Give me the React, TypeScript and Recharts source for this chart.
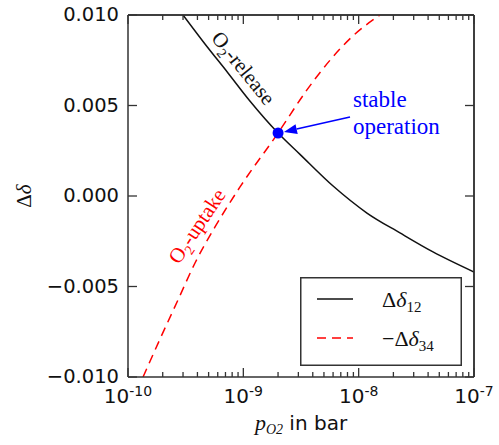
import React from 'react';
import { LineChart, Line, XAxis, YAxis, ReferenceDot, ReferenceLine, Legend } from 'recharts';

// O2-release curve (Δδ12)
const releaseP = [3.0e-10, 4.65e-10, 7.36e-10, 1.14e-9, 2.0e-9, 3.1e-9, 6.0e-9, 1.18e-8, 2.28e-8, 4.41e-8, 1.0e-7];
const releaseDelta = [0.01, 0.0084, 0.0068, 0.00525, 0.00348, 0.0023, 0.00055, -0.00094, -0.00204, -0.00309, -0.0042];

// O2-uptake curve (−Δδ34)
const uptakeP = [1.35e-10, 1.93e-10, 2.71e-10, 3.81e-10, 5.68e-10, 9.36e-10, 2.0e-9, 3.56e-9, 5.64e-9, 8.76e-9, 1.53e-8];
const uptakeDelta = [-0.01, -0.00779, -0.00575, -0.0037, -0.00171, 0.0005, 0.00348, 0.00586, 0.0075, 0.0088, 0.01];

// stable operating point
const stableP = 2.0e-9;
const stableDelta = 0.00348;

const majorTicksX = [1e-10, 1e-9, 1e-8, 1e-7];
const minorFactors = [2, 3, 4, 5, 6, 7, 8, 9];
const yTicks = [-0.01, -0.005, 0, 0.005, 0.01];
const yTickLabels = ['\u22120.010', '\u22120.005', '0.000', '0.005', '0.010'];

const xTicks = [
  ...majorTicksX,
  ...majorTicksX.slice(0, 3).flatMap((d) => minorFactors.map((f) => f * d)),
].sort((a, b) => a - b);

const releaseData = releaseP.map((p, i) => ({ p, d: releaseDelta[i] }));
const uptakeData = uptakeP.map((p, i) => ({ p, d: uptakeDelta[i] }));

const AXIS = '#333';
const SANS = "'DejaVu Sans', sans-serif";
const SERIF = "'Liberation Serif', 'Times New Roman', serif";

const isMajor = (v: number) => {
  const e = Math.log10(v);
  return Math.abs(e - Math.round(e)) < 1e-6;
};

const XTick = (props: any) => {
  const { x, y, payload, top } = props;
  const v = payload.value as number;
  const major = isMajor(v);
  const len = major ? 9 : 5;
  const dir = top ? 1 : -1;
  return (
    <g>
      <line x1={x} x2={x} y1={y} y2={y + dir * len} stroke={AXIS} strokeWidth={1.3} />
      {!top && major && (
        <text x={x} y={y + 26} textAnchor="middle" fontFamily={SANS} fontSize={20} fill="#111">
          <tspan>10</tspan>
          <tspan dy={-7} fontSize={14}>{Math.round(Math.log10(v))}</tspan>
        </text>
      )}
    </g>
  );
};

const YTick = (props: any) => {
  const { x, y, payload, right } = props;
  const idx = yTicks.indexOf(payload.value);
  const dir = right ? -1 : 1;
  return (
    <g>
      <line x1={x} x2={x + dir * 9} y1={y} y2={y} stroke={AXIS} strokeWidth={1.3} />
      {!right && (
        <text x={x - 9} y={y + 6} textAnchor="end" fontFamily={SANS} fontSize={19.5} fill="#111">
          {yTickLabels[idx]}
        </text>
      )}
    </g>
  );
};

const XLabel = (props: any) => {
  const { viewBox } = props;
  const cx = viewBox.x + viewBox.width / 2;
  return (
    <text x={cx} y={viewBox.y + 53} textAnchor="middle" fill="#111">
      <tspan fontFamily={SERIF} fontStyle="italic" fontSize={22}>p</tspan>
      <tspan fontFamily={SERIF} fontStyle="italic" fontSize={14} dy={4}>O2</tspan>
      <tspan fontFamily={SANS} fontSize={20} dy={-4}> in bar</tspan>
    </text>
  );
};

const YLabel = () => (
  <text x={0} y={0} transform="translate(31, 196) rotate(-90)" textAnchor="middle" fill="#111" fontFamily={SERIF} fontSize={21}>
    <tspan>Δ</tspan>
    <tspan fontStyle="italic">δ</tspan>
  </text>
);

const Arrow = (props: any) => {
  const { x1, y1, x2, y2 } = props;
  const ang = Math.atan2(y2 - y1, x2 - x1);
  const hl = 13;
  const hw = 5;
  const bx = x2 - hl * Math.cos(ang);
  const by = y2 - hl * Math.sin(ang);
  const px = -Math.sin(ang) * hw;
  const py = Math.cos(ang) * hw;
  return (
    <g>
      <line x1={x1} y1={y1} x2={bx} y2={by} stroke="#0000ff" strokeWidth={1.6} />
      <polygon points={`${x2},${y2} ${bx + px},${by + py} ${bx - px},${by - py}`} fill="#0000ff" />
    </g>
  );
};

const LegendBox = () => (
  <svg width={162} height={89} style={{ display: 'block' }}>
    <rect x={0.75} y={0.75} width={160.5} height={87.5} fill="#fff" stroke={AXIS} strokeWidth={1.5} />
    <line x1={17} x2={53} y1={22} y2={22} stroke="#111" strokeWidth={1.5} />
    <line x1={17} x2={53} y1={61} y2={61} stroke="#ff0000" strokeWidth={1.5} strokeDasharray="9 6" />
    <text x={82} y={30} fontFamily={SERIF} fontSize={22} fill="#111">
      <tspan>Δ</tspan>
      <tspan fontStyle="italic">δ</tspan>
      <tspan fontSize={15} dy={5}>12</tspan>
    </text>
    <text x={82} y={69} fontFamily={SERIF} fontSize={22} fill="#111">
      <tspan>−Δ</tspan>
      <tspan fontStyle="italic">δ</tspan>
      <tspan fontSize={15} dy={5}>34</tspan>
    </text>
  </svg>
);

export default function App() {
  return (
    <div style={{ position: 'absolute', left: 0, top: 0, background: '#fff' }}>
      <LineChart width={499} height={445} margin={{ top: 14, right: 24, left: 0, bottom: 0 }}>
        <XAxis
          dataKey="p"
          type="number"
          scale="log"
          domain={[1e-10, 1e-7]}
          allowDataOverflow
          ticks={xTicks}
          interval={0}
          tickSize={0}
          tickMargin={0}
          tickLine={false}
          height={68}
          axisLine={{ stroke: AXIS, strokeWidth: 1.5 }}
          tick={(p: any) => <XTick {...p} />}
          label={<XLabel />}
        />
        <XAxis
          xAxisId="top"
          orientation="top"
          dataKey="p"
          type="number"
          scale="log"
          domain={[1e-10, 1e-7]}
          allowDataOverflow
          ticks={xTicks}
          interval={0}
          tickSize={0}
          tickMargin={0}
          tickLine={false}
          height={1}
          axisLine={{ stroke: AXIS, strokeWidth: 1.5 }}
          tick={(p: any) => <XTick {...p} top />}
        />
        <YAxis
          type="number"
          domain={[-0.01, 0.01]}
          allowDataOverflow
          ticks={yTicks}
          interval={0}
          tickSize={0}
          tickMargin={0}
          tickLine={false}
          width={128}
          axisLine={{ stroke: AXIS, strokeWidth: 1.5 }}
          tick={(p: any) => <YTick {...p} />}
          label={<YLabel />}
        />
        <YAxis
          yAxisId="right"
          orientation="right"
          type="number"
          domain={[-0.01, 0.01]}
          allowDataOverflow
          ticks={yTicks}
          interval={0}
          tickSize={0}
          tickMargin={0}
          tickLine={false}
          width={1}
          axisLine={{ stroke: AXIS, strokeWidth: 1.5 }}
          tick={(p: any) => <YTick {...p} right />}
        />
        {/* top and right edges of the plot frame */}
        <ReferenceLine y={0.01} stroke={AXIS} strokeWidth={1.5} ifOverflow="visible" />
        <ReferenceLine x={1e-7} stroke={AXIS} strokeWidth={1.5} ifOverflow="visible" />
        <Line
          data={releaseData}
          dataKey="d"
          name="release"
          type="monotone"
          stroke="#111"
          strokeWidth={1.5}
          dot={false}
          activeDot={false}
          isAnimationActive={false}
        />
        <Line
          data={uptakeData}
          dataKey="d"
          name="uptake"
          type="monotone"
          stroke="#ff0000"
          strokeWidth={1.5}
          strokeDasharray="9 6"
          dot={false}
          activeDot={false}
          isAnimationActive={false}
        />
        <ReferenceDot x={stableP} y={stableDelta} r={5.5} fill="#0000ff" stroke="none" />
        <ReferenceLine
          segment={[{ x: 8.41e-9, y: 0.00436 }, { x: 2.25e-9, y: 0.00354 }]}
          shape={(p: any) => <Arrow {...p} />}
        />
        <ReferenceDot
          x={1.0e-9}
          y={0.00707}
          r={0}
          shape={(p: any) => (
            <text transform={`translate(${p.cx}, ${p.cy}) rotate(51)`} textAnchor="middle" dy={7} fontFamily={SERIF} fontSize={21} fill="#111">
              <tspan>O</tspan>
              <tspan fontSize={14} dy={5}>2</tspan>
              <tspan dy={-5}>-release</tspan>
            </text>
          )}
        />
        <ReferenceDot
          x={3.96e-10}
          y={-0.00166}
          r={0}
          shape={(p: any) => (
            <text transform={`translate(${p.cx}, ${p.cy}) rotate(-56)`} textAnchor="middle" dy={7} fontFamily={SERIF} fontSize={21} fill="#ff0000">
              <tspan>O</tspan>
              <tspan fontSize={14} dy={5}>2</tspan>
              <tspan dy={-5}>-uptake</tspan>
            </text>
          )}
        />
        <ReferenceDot
          x={8.93e-9}
          y={0.00492}
          r={0}
          shape={(p: any) => (
            <text x={p.cx} y={p.cy} fontFamily={SERIF} fontSize={23} fill="#0000ff">
              <tspan x={p.cx}>stable</tspan>
              <tspan x={p.cx} dy={27}>operation</tspan>
            </text>
          )}
        />
        <Legend
          layout="horizontal"
          verticalAlign="middle"
          align="center"
          wrapperStyle={{ position: 'absolute', left: 300, top: 277, width: 162, height: 89 }}
          content={() => <LegendBox />}
        />
      </LineChart>
    </div>
  );
}
